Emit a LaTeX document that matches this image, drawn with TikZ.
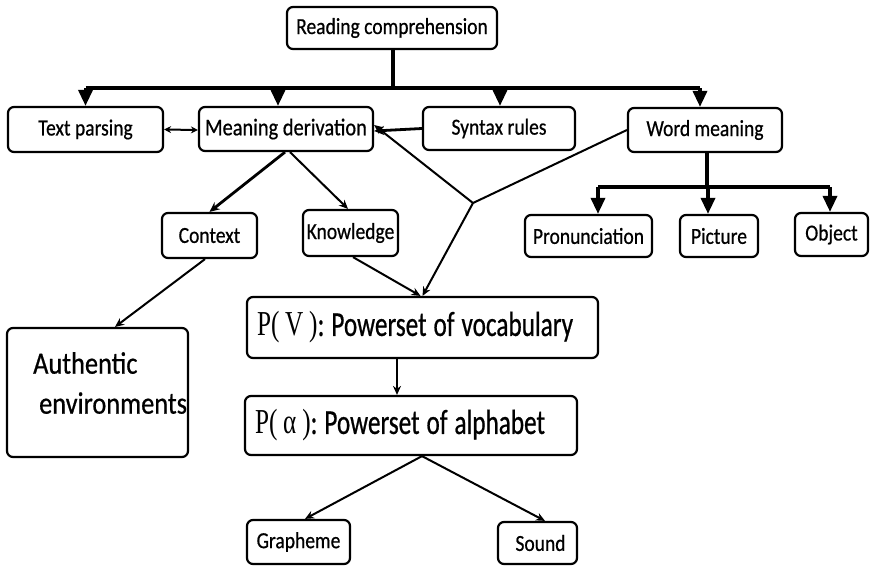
\documentclass[tikz,border=0pt]{standalone}
\usepackage{fontspec}
\setmainfont{Carlito}[FakeStretch=0.85,FakeBold=0.6]
\newfontfamily\pfont{Carlito}[FakeStretch=0.72,FakeBold=0.6]
\newfontfamily\pserif{Liberation Serif}[FakeStretch=0.72]
\newcommand\psetstyle{\pfont\fontsize{35}{38}\selectfont}
\newcommand\wsp{\hspace{7pt}}
\usetikzlibrary{arrows.meta}
\begin{document}
\begin{tikzpicture}[x=1pt,y=-1pt,
  box/.style={draw,line width=2.2pt,rounded corners=6pt,inner sep=0pt,align=center},
  lbl/.style={font=\fontsize{23}{26}\selectfont},
  lblbig/.style={font=\fontsize{24}{27}\selectfont},
  pset/.style={box,font=\psetstyle,inner xsep=10pt,align=left},
  tree/.style={line width=4.5pt},
  treearrow/.style={line width=3.4pt,-{Triangle[length=16pt,width=14pt]}},
  link/.style={line width=2pt},
  linkarrow/.style={line width=2pt,-{Stealth[length=9pt,width=8pt]}},
  boldarrow/.style={line width=2.8pt,-{Stealth[length=10pt,width=9pt]}}]
\useasboundingbox (0,0) rectangle (870,566);

% top level
\node[box,lbl,minimum width=210pt,minimum height=42pt] (rc) at (392,28) {Reading comprehension};
\node[box,lbl,minimum width=155pt,minimum height=45pt] (tp) at (85.5,129.5) {Text parsing};
\node[box,lblbig,minimum width=174pt,minimum height=44pt] (md) at (286,129) {Meaning derivation};
\node[box,lbl,minimum width=152pt,minimum height=43pt] (sr) at (499,128.5) {Syntax rules};
\node[box,lbl,minimum width=154pt,minimum height=44pt] (wm) at (705,130) {Word meaning};

% second level
\node[box,lbl,minimum width=95pt,minimum height=45pt] (ctx) at (209.5,235.5) {Context};
\node[box,lbl,minimum width=95pt,minimum height=46pt] (kn) at (350.5,233) {Knowledge};
\node[box,lbl,minimum width=127pt,minimum height=42pt] (pr) at (588.5,236) {Pronunciation};
\node[box,lbl,minimum width=78pt,minimum height=42pt] (pic) at (719,236) {Picture};
\node[box,lbl,minimum width=73pt,minimum height=43pt] (obj) at (831.5,234.5) {Object};

% lower part
\node[box,minimum width=181pt,minimum height=129pt] (auth) at (97.5,392.5) {};
\node[font=\fontsize{31}{40}\selectfont,align=left,anchor=west,inner sep=0pt] (authtxt) at (33,383)
  {Authentic\\\ environments};
\node[pset,text width=331pt,minimum height=61pt] (pv) at (422.5,327.5)
  {{\pserif P(\,V\,)}:\wsp Powerset\wsp of\wsp vocabulary};
\node[pset,text width=312pt,minimum height=59pt] (pa) at (411,425.5)
  {{\pserif P(\,α\,)}:\wsp Powerset\wsp of\wsp alphabet};
\node[box,lbl,minimum width=103pt,minimum height=44pt] (gr) at (298.5,542) {Grapheme};
\node[box,lbl,minimum width=79pt,minimum height=42pt] (snd) at (537.5,543) {\hspace{6pt}Sound};

% branching bar under the root
\coordinate (bar) at (0,88);
\draw[tree] ([xshift=1pt]rc.south) -- ([xshift=1pt]rc.south |- bar);
\draw[tree] (tp.north |- bar) -- ([xshift=-5pt]wm.north |- bar);
\draw[treearrow] (tp.north |- bar) -- (tp.north);
\draw[treearrow] ([xshift=-8pt]md.north |- bar) -- ([xshift=-8pt]md.north);
\draw[treearrow] ([xshift=1pt]sr.north |- bar) -- ([xshift=1pt]sr.north);
\draw[treearrow] ([xshift=-5pt]wm.north |- bar) -- ([xshift=-5pt]wm.north);

% branching bar under word meaning
\coordinate (wbar) at (0,187);
\draw[tree] ([xshift=2pt]wm.south) -- ([xshift=2pt]wm.south |- wbar);
\draw[tree] ([xshift=9.5pt]pr.north |- wbar) -- ([xshift=-1.5pt]obj.north |- wbar);
\draw[treearrow] ([xshift=9.5pt]pr.north |- wbar) -- ([xshift=9.5pt]pr.north);
\draw[treearrow] ([xshift=-11pt]pic.north |- wbar) -- ([xshift=-11pt]pic.north);
\draw[treearrow] ([xshift=-1.5pt]obj.north |- wbar) -- ([xshift=-1.5pt]obj.north);

% links among the top level
\draw[link,{Stealth[length=7pt,width=7pt]}-{Stealth[length=7pt,width=7pt]}] (tp.east) -- ([yshift=-1pt]md.west);
\draw[boldarrow] (sr.west) -- ([yshift=-2pt]md.east);

% word meaning joins meaning derivation and the vocabulary powerset
\coordinate (fork) at (473,203);
\draw[link] (wm.west) -- (fork);
\draw[linkarrow] (fork) -- ([yshift=4pt]md.east);
\draw[linkarrow] (fork) -- (pv.north);

% meaning derivation children
\draw[boldarrow] ([xshift=-1pt]md.south) -- (ctx.north);
\draw[linkarrow] ([xshift=4pt]md.south) -- ([xshift=-2.5pt]kn.north);
\draw[linkarrow] ([xshift=2.5pt]kn.south) -- ([xshift=-2pt]pv.north);
\draw[linkarrow] ([xshift=-4.5pt]ctx.south) -- ([xshift=17.5pt]auth.north);

% powerset chain
\draw[linkarrow] ([xshift=-25.5pt]pv.south) -- ([xshift=-14pt]pa.north);
\draw[linkarrow] ([xshift=11pt]pa.south) -- ([xshift=6.5pt]gr.north);
\draw[linkarrow] ([xshift=11pt]pa.south) -- ([xshift=7.5pt]snd.north);
\end{tikzpicture}
\end{document}
